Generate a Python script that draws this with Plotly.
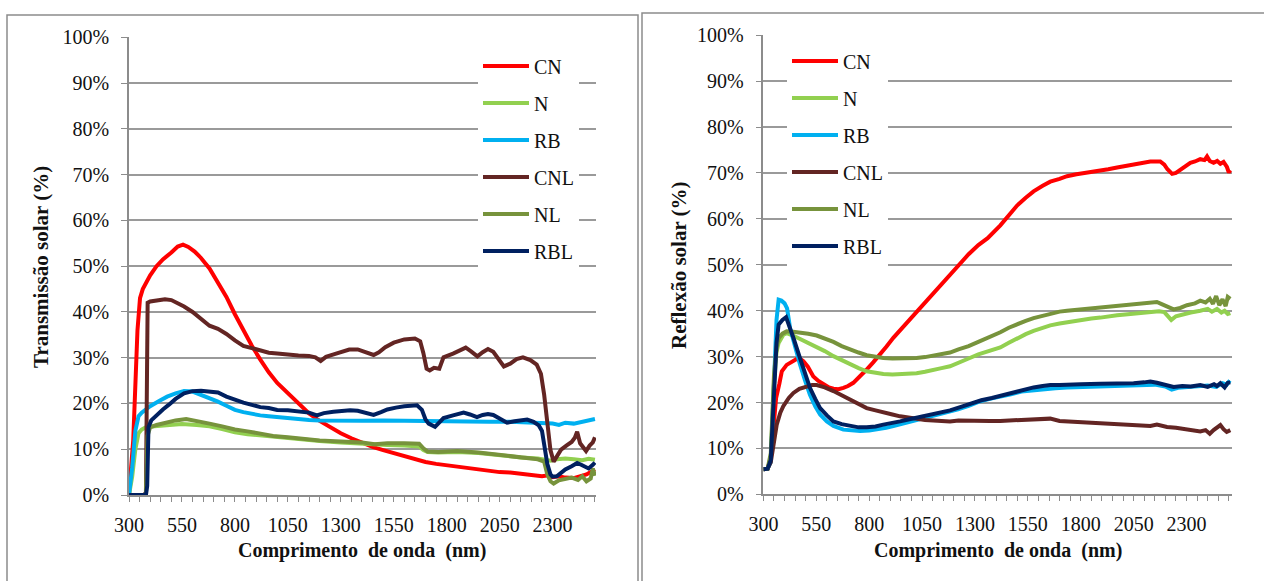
import plotly.graph_objects as go

W, H = 1264, 581

# ---------------- Left chart: Transmissão solar (%) ----------------
cn_t_nm = [300, 320, 340, 352, 365, 380, 400, 430, 460, 500, 530, 555, 580, 610, 640, 680, 720, 760, 800, 840, 880, 920, 960, 1000, 1050, 1100, 1150, 1200, 1250, 1300, 1350, 1400, 1450, 1500, 1550, 1600, 1650, 1700, 1750, 1800, 1850, 1900, 1950, 2000, 2050, 2100, 2150, 2200, 2250, 2280, 2300, 2330, 2360, 2400, 2430, 2460, 2480, 2500]
cn_t_val = [0, 12, 36, 43, 45, 46.5, 48, 50, 51.5, 53, 54.3, 54.7, 54.2, 53.2, 51.8, 49.5, 46.5, 43.3, 39.5, 36, 32.6, 29.6, 26.8, 24.5, 22.2, 19.8, 17.8, 16.2, 14.8, 13.5, 12.4, 11.4, 10.5, 9.8, 9.1, 8.5, 7.9, 7.2, 6.8, 6.5, 6.1, 5.8, 5.5, 5.3, 5.0, 4.9, 4.6, 4.4, 4.1, 4.3, 3.9, 4.1, 3.8, 3.7, 4.0, 4.5, 5.0, 5.6]

n_t_nm = [300, 315, 330, 345, 360, 380, 420, 480, 550, 620, 680, 740, 800, 860, 920, 980, 1050, 1120, 1200, 1300, 1400, 1460, 1520, 1600, 1670, 1690, 1710, 1760, 1850, 1950, 2050, 2150, 2230, 2270, 2290, 2320, 2360, 2400, 2440, 2470, 2500]
n_t_val = [0, 4, 10, 13.5, 14.3, 14.8, 15.0, 15.3, 15.5, 15.3, 15.0, 14.4, 13.7, 13.3, 13.0, 12.8, 12.5, 12.2, 11.8, 11.5, 11.2, 10.9, 10.9, 10.8, 10.6, 9.8, 9.4, 9.3, 9.4, 9.2, 8.6, 8.2, 8.0, 7.6, 7.5, 7.8, 8.0, 7.8, 7.6, 7.9, 7.7]

rb_t_nm = [300, 315, 330, 345, 360, 380, 400, 440, 480, 520, 560, 600, 640, 680, 720, 760, 800, 840, 880, 920, 960, 1000, 1050, 1100, 1150, 1200, 1300, 1400, 1500, 1600, 1700, 1800, 1900, 2000, 2100, 2200, 2250, 2300, 2330, 2360, 2400, 2430, 2460, 2480, 2500]
rb_t_val = [0, 6, 14, 17.2, 18, 18.8, 19.4, 20.5, 21.5, 22.2, 22.7, 22.6, 21.9, 21.2, 20.4, 19.5, 18.6, 18.1, 17.7, 17.4, 17.2, 17.0, 16.8, 16.6, 16.4, 16.3, 16.2, 16.2, 16.3, 16.2, 16.2, 16.2, 16.1, 16.0, 16.0, 15.9, 15.8, 15.6, 15.3, 15.8, 15.6, 15.9, 16.1, 16.4, 16.6]

cnl_t_nm = [300, 370, 380, 388, 400, 430, 470, 500, 530, 560, 600, 640, 680, 720, 760, 800, 840, 880, 920, 960, 1000, 1050, 1100, 1150, 1180, 1205, 1230, 1270, 1300, 1340, 1380, 1420, 1455, 1480, 1510, 1550, 1600, 1650, 1675, 1690, 1705, 1720, 1740, 1765, 1785, 1830, 1860, 1890, 1915, 1945, 1970, 1995, 2020, 2045, 2070, 2100, 2130, 2160, 2195, 2225, 2245, 2260, 2275, 2290, 2305, 2320, 2340, 2365, 2390, 2405, 2416, 2430, 2445, 2458, 2475, 2490, 2500]
cnl_t_val = [0, 0, 0.5, 42, 42.3, 42.5, 42.8, 42.6, 42, 41.2, 40, 38.6, 37, 36.3, 35.2, 33.8, 32.6, 32.1, 31.6, 31.1, 30.9, 30.6, 30.5, 30.4, 30.1, 29.3, 30.2, 30.8, 31.2, 31.8, 31.8, 31.2, 30.6, 31.2, 32.3, 33.3, 34, 34.2, 33.6, 31, 27.6, 27.2, 27.8, 27.6, 30.1, 30.9, 31.5, 32.2, 31.4, 30.3, 31.2, 31.9, 31.3, 29.8, 28.1, 28.7, 29.7, 30.1, 29.5, 28.5, 26.5, 22, 15, 9.8, 7.3, 8.5, 9.9, 10.8, 11.6, 12.5, 13.8, 11.3, 10.2, 9.6, 10.8, 11.5, 12.6]

nl_t_nm = [300, 380, 388, 400, 430, 470, 520, 570, 620, 680, 740, 800, 860, 920, 980, 1050, 1120, 1200, 1300, 1400, 1460, 1520, 1600, 1670, 1690, 1710, 1760, 1850, 1950, 2050, 2150, 2230, 2260, 2275, 2290, 2305, 2330, 2360, 2390, 2420, 2440, 2460, 2480, 2490, 2500]
nl_t_val = [0, 0, 13, 14.8, 15.3, 15.8, 16.3, 16.6, 16.2, 15.6, 15.0, 14.3, 13.9, 13.3, 12.9, 12.6, 12.3, 11.9, 11.7, 11.5, 11.1, 11.3, 11.3, 11.2, 10.2, 9.5, 9.4, 9.6, 9.3, 8.7, 8.1, 7.8, 7.3, 4.5, 3.0, 2.5, 3.2, 3.4, 3.8, 3.3, 4.1, 3.0, 3.6, 5.8, 4.2]

rbl_t_nm = [300, 380, 386, 392, 405, 430, 460, 490, 520, 560, 600, 640, 680, 720, 760, 800, 840, 880, 920, 960, 1000, 1050, 1100, 1150, 1187, 1220, 1265, 1300, 1344, 1380, 1420, 1455, 1490, 1520, 1560, 1600, 1660, 1683, 1700, 1715, 1745, 1765, 1785, 1830, 1880, 1910, 1943, 1970, 1995, 2020, 2040, 2065, 2085, 2120, 2150, 2180, 2210, 2235, 2250, 2262, 2275, 2290, 2300, 2320, 2340, 2360, 2390, 2416, 2435, 2450, 2470, 2490, 2500]
rbl_t_val = [0, 0, 2, 14.8, 16.3, 17.5, 18.7, 19.8, 21, 22.2, 22.7, 22.8, 22.5, 22.4, 21.5, 20.8, 20.2, 19.7, 19.2, 19.0, 18.6, 18.5, 18.3, 18.0, 17.4, 17.9, 18.2, 18.4, 18.5, 18.4, 17.9, 17.5, 18.1, 18.7, 19.1, 19.4, 19.6, 18.6, 16.5, 15.6, 14.9, 16.0, 16.8, 17.4, 18.0, 17.6, 17.0, 17.5, 17.7, 17.5, 17.0, 16.2, 15.8, 16.1, 16.4, 16.5, 16.0, 15.2, 14.0, 10.5, 6.8, 4.5, 4.0, 4.1, 5.0, 5.6, 6.3, 7.0, 6.6, 6.2, 5.8, 6.6, 7.1]

# ---------------- Right chart: Reflexão solar (%) ----------------
cn_r_nm = [300, 320, 335, 350, 360, 375, 387, 410, 435, 457, 475, 489, 510, 536, 560, 584, 610, 631, 655, 678, 700, 725, 755, 788, 820, 851, 882, 914, 945, 977, 1008, 1040, 1072, 1103, 1142, 1182, 1222, 1270, 1316, 1360, 1420, 1460, 1499, 1540, 1577, 1620, 1656, 1700, 1735, 1780, 1814, 1850, 1893, 1930, 1972, 2010, 2050, 2090, 2129, 2176, 2195, 2210, 2232, 2250, 2271, 2295, 2318, 2340, 2365, 2385, 2397, 2410, 2428, 2445, 2460, 2475, 2491, 2500, 2507]
cn_r_val = [5.5, 5.6, 8, 17, 21, 24, 26.8, 28.2, 29.0, 29.5, 29.5, 29.0, 27.8, 25.7, 24.7, 23.9, 23.3, 23.0, 22.9, 23.2, 23.6, 24.3, 25.6, 27.2, 28.8, 30.4, 32.2, 34.1, 35.7, 37.3, 38.9, 40.4, 42.0, 43.6, 45.7, 47.8, 49.9, 52.3, 54.3, 55.8, 58.6, 60.8, 62.9, 64.6, 66.0, 67.2, 68.1, 68.7, 69.3, 69.7, 69.9, 70.2, 70.5, 70.8, 71.2, 71.5, 71.9, 72.2, 72.5, 72.5, 71.8, 70.8, 69.8, 70.0, 70.6, 71.5, 72.2, 72.5, 73.0, 72.8, 73.6, 72.6, 72.2, 72.6, 72.0, 72.4, 71.3, 70.1, 70.6]

n_r_nm = [300, 320, 335, 350, 362, 372, 395, 410, 440, 473, 512, 552, 590, 631, 670, 710, 750, 788, 830, 867, 910, 946, 985, 1024, 1064, 1103, 1142, 1182, 1222, 1270, 1316, 1370, 1420, 1460, 1499, 1540, 1577, 1620, 1656, 1700, 1735, 1780, 1814, 1850, 1893, 1930, 1972, 2010, 2050, 2090, 2129, 2170, 2195, 2215, 2228, 2250, 2271, 2320, 2365, 2400, 2420, 2444, 2465, 2480, 2495, 2507]
n_r_val = [5.5, 5.6, 8, 24, 31, 33, 34.8, 35.1, 34.6, 33.9, 33.0, 32.2, 31.2, 30.1, 29.2, 28.3, 27.5, 26.8, 26.4, 26.2, 26.1, 26.2, 26.2, 26.4, 26.7, 27.2, 27.5, 27.9, 28.6, 29.6, 30.5, 31.2, 32.0, 33.0, 34.0, 34.9, 35.6, 36.3, 36.8, 37.2, 37.5, 37.8, 38.0, 38.3, 38.5, 38.8, 39.0, 39.2, 39.4, 39.6, 39.8, 39.9, 39.7, 38.6, 38.0, 38.8, 39.1, 39.6, 40.0, 40.4, 39.8, 40.4, 39.6, 40.0, 39.3, 39.5]

rb_r_nm = [300, 320, 335, 350, 362, 372, 385, 400, 412, 426, 450, 473, 497, 520, 545, 568, 600, 631, 678, 720, 757, 800, 835, 880, 914, 950, 993, 1030, 1072, 1120, 1166, 1220, 1270, 1320, 1370, 1420, 1470, 1520, 1577, 1620, 1680, 1735, 1800, 1893, 2000, 2050, 2100, 2150, 2200, 2230, 2260, 2300, 2350, 2400, 2440, 2470, 2490, 2505]
rb_r_val = [5.5, 5.6, 7, 25, 38, 42.4, 42.2, 41.6, 40.5, 36.2, 32, 28.3, 24.8, 21.7, 19.2, 17.4, 15.9, 14.9, 14.1, 13.9, 13.8, 13.9, 14.1, 14.5, 14.9, 15.3, 15.9, 16.3, 16.8, 17.2, 17.7, 18.5, 19.3, 20.2, 20.8, 21.2, 21.8, 22.4, 22.7, 22.9, 23.1, 23.3, 23.4, 23.6, 23.7, 23.8, 23.9, 23.9, 23.5, 22.8, 23.2, 23.3, 23.5, 23.7, 23.4, 24.2, 23.9, 24.8]

cnl_r_nm = [300, 320, 335, 347, 363, 380, 394, 420, 442, 470, 505, 530, 552, 590, 631, 670, 710, 750, 788, 830, 867, 910, 946, 985, 1024, 1064, 1103, 1142, 1182, 1222, 1270, 1316, 1370, 1420, 1500, 1577, 1620, 1656, 1700, 1735, 1814, 1893, 1972, 2050, 2129, 2160, 2208, 2250, 2287, 2320, 2365, 2390, 2410, 2428, 2445, 2460, 2475, 2490, 2507]
cnl_r_val = [5.5, 5.6, 7, 10.1, 15.2, 17.8, 19.2, 21, 22.1, 23, 23.6, 23.8, 23.8, 23.3, 22.5, 21.6, 20.7, 19.7, 18.8, 18.3, 17.8, 17.4, 17.0, 16.7, 16.4, 16.2, 16.1, 16.0, 15.9, 16.1, 16.0, 15.9, 16.0, 16.0, 16.1, 16.2, 16.3, 16.5, 16.0, 15.9, 15.8, 15.5, 15.3, 15.1, 14.9, 15.2, 14.7, 14.5, 14.3, 14.1, 13.7, 14.0, 13.2, 14.0, 14.5, 15.1, 14.2, 13.6, 14.0]

nl_r_nm = [300, 320, 335, 350, 362, 372, 390, 410, 440, 473, 512, 552, 590, 631, 670, 710, 750, 788, 830, 867, 910, 946, 985, 1024, 1064, 1103, 1142, 1182, 1222, 1270, 1316, 1370, 1420, 1460, 1499, 1540, 1577, 1620, 1656, 1700, 1735, 1780, 1814, 1850, 1893, 1930, 1972, 2010, 2050, 2090, 2129, 2160, 2180, 2215, 2239, 2270, 2302, 2340, 2365, 2390, 2410, 2425, 2440, 2455, 2470, 2485, 2495, 2507]
nl_r_val = [5.5, 5.6, 9, 26, 32, 34, 35, 35.5, 35.4, 35.3, 35.0, 34.6, 34.0, 33.2, 32.3, 31.5, 30.9, 30.3, 29.9, 29.7, 29.6, 29.6, 29.6, 29.7, 29.9, 30.2, 30.6, 30.9, 31.6, 32.3, 33.2, 34.2, 35.3, 36.3, 37.1, 37.8, 38.4, 38.9, 39.4, 39.8, 40.0, 40.2, 40.3, 40.5, 40.7, 40.9, 41.2, 41.3, 41.5, 41.6, 41.7, 41.9, 41.5, 40.9, 40.3, 40.6, 41.2, 41.6, 42.2, 41.8, 42.6, 41.5, 43.2, 41.2, 42.5, 41.0, 43.0, 42.6]

rbl_r_nm = [300, 320, 335, 350, 362, 372, 390, 407, 420, 442, 473, 497, 520, 545, 568, 600, 631, 670, 710, 750, 788, 830, 867, 910, 946, 985, 1024, 1064, 1103, 1142, 1182, 1230, 1280, 1330, 1380, 1420, 1460, 1500, 1540, 1577, 1620, 1656, 1700, 1735, 1800, 1893, 2000, 2050, 2100, 2129, 2160, 2208, 2239, 2280, 2320, 2365, 2400, 2430, 2444, 2460, 2480, 2495, 2507]
rbl_r_val = [5.5, 5.6, 7.5, 22, 33, 37, 38, 38.6, 37, 34.1, 29.7, 26.2, 23.2, 20.8, 18.8, 17.2, 15.9, 15.3, 14.9, 14.6, 14.6, 14.8, 15.2, 15.5, 15.9, 16.3, 16.7, 17.0, 17.4, 17.8, 18.3, 19.0, 19.8, 20.5, 21.0, 21.5, 22.0, 22.4, 22.9, 23.3, 23.6, 23.8, 23.8, 23.9, 24.0, 24.1, 24.1, 24.2, 24.4, 24.6, 24.3, 23.8, 23.4, 23.6, 23.5, 23.8, 23.4, 24.0, 23.6, 24.2, 23.3, 24.3, 24.4]

series_names = ["CN", "N", "RB", "CNL", "NL", "RBL"]
series_colors = ["#FF0000", "#92D050", "#00B0F0", "#632523", "#77933C", "#002060"]
left_data = [(cn_t_nm, cn_t_val), (n_t_nm, n_t_val), (rb_t_nm, rb_t_val),
             (cnl_t_nm, cnl_t_val), (nl_t_nm, nl_t_val), (rbl_t_nm, rbl_t_val)]
right_data = [(cn_r_nm, cn_r_val), (n_r_nm, n_r_val), (rb_r_nm, rb_r_val),
              (cnl_r_nm, cnl_r_val), (nl_r_nm, nl_r_val), (rbl_r_nm, rbl_r_val)]

x_ticks = [300, 550, 800, 1050, 1300, 1550, 1800, 2050, 2300]
y_ticks = [0, 10, 20, 30, 40, 50, 60, 70, 80, 90, 100]
y_labels = [f"{v}%" for v in y_ticks]

FONT = "Liberation Serif"
GRID = "#9a9a9a"
AX = "#8c8c8c"

fig = go.Figure()
for i, (name, col) in enumerate(zip(series_names, series_colors)):
    xs, ys = left_data[i]
    fig.add_trace(go.Scatter(x=xs, y=ys, mode="lines", name=name,
                             line=dict(color=col, width=4),
                             xaxis="x", yaxis="y", legend="legend",
                             legendgroup="L" + name))
for i, (name, col) in enumerate(zip(series_names, series_colors)):
    xs, ys = right_data[i]
    fig.add_trace(go.Scatter(x=xs, y=ys, mode="lines", name=name,
                             line=dict(color=col, width=4),
                             xaxis="x2", yaxis="y2", legend="legend2",
                             legendgroup="R" + name))


def px(x):
    return x / W


def py(y):
    return 1 - y / H


def xaxis_cfg(d0, d1, anchor, rmax):
    return dict(domain=[px(d0), px(d1)], anchor=anchor, range=[300, rmax],
                automargin=False,
                tickvals=x_ticks, ticktext=[str(v) for v in x_ticks],
                ticks="outside", ticklen=5, tickcolor=AX, tickwidth=1.2,
                showline=True, linecolor=AX, linewidth=1.5,
                showgrid=False, zeroline=False,
                minor=dict(dtick=50, tick0=300, ticks="outside", ticklen=5,
                           tickcolor=AX, tickwidth=1.2, showgrid=False),
                tickfont=dict(family=FONT, size=20, color="#111111"),
                ticklabelstandoff=6, fixedrange=True)


def yaxis_cfg(d0, d1, anchor):
    return dict(domain=[py(d0), py(d1)], anchor=anchor, range=[0, 100],
                automargin=False,
                tickvals=y_ticks, ticktext=y_labels,
                ticks="outside", ticklen=6, tickcolor=AX, tickwidth=1.2,
                showline=True, linecolor=AX, linewidth=1.5,
                showgrid=True, gridcolor=GRID, gridwidth=1.5, zeroline=False,
                tickfont=dict(family=FONT, size=20, color="#111111"),
                ticklabelstandoff=8, fixedrange=True)


legend_common = dict(bgcolor="white", borderwidth=0,
                     font=dict(family=FONT, size=20, color="#111111"),
                     itemwidth=46, tracegroupgap=8, traceorder="grouped",
                     xanchor="left", yanchor="top", itemclick=False,
                     itemdoubleclick=False)

title_font = dict(family=FONT, size=20, color="#111111", weight="bold")

fig.update_layout(
    width=W, height=H, autosize=False,
    margin=dict(l=0, r=0, t=0, b=0, autoexpand=False),
    paper_bgcolor="white", plot_bgcolor="white",
    xaxis=xaxis_cfg(129, 596, "y", 2505),
    yaxis=yaxis_cfg(495, 37.4, "x"),
    xaxis2=xaxis_cfg(763.4, 1232, "y2", 2515),
    yaxis2=yaxis_cfg(494.4, 35.2, "x2"),
    legend=dict(x=px(478), y=py(46.5), **legend_common),
    legend2=dict(x=px(787), y=py(41.5), **legend_common),
    showlegend=True,
    annotations=[
        dict(text="Comprimento&nbsp;&nbsp;de&nbsp;onda&nbsp;&nbsp;(nm)", x=px(362), y=py(550),
             xref="paper", yref="paper", showarrow=False, font=title_font,
             xanchor="center", yanchor="middle"),
        dict(text="Comprimento&nbsp;&nbsp;de&nbsp;onda&nbsp;&nbsp;(nm)", x=px(998), y=py(550),
             xref="paper", yref="paper", showarrow=False, font=title_font,
             xanchor="center", yanchor="middle"),
        dict(text="Transmissão solar (%)", x=px(41), y=py(267), textangle=-90,
             xref="paper", yref="paper", showarrow=False,
             font=dict(family=FONT, size=21, color="#111111", weight="bold"),
             xanchor="center", yanchor="middle"),
        dict(text="Reflexão solar (%)", x=px(679), y=py(265), textangle=-90,
             xref="paper", yref="paper", showarrow=False,
             font=dict(family=FONT, size=21, color="#111111", weight="bold"),
             xanchor="center", yanchor="middle"),
    ],
    shapes=[
        dict(type="rect", xref="paper", yref="paper", x0=px(7), x1=px(638),
             y0=-0.02, y1=py(15), line=dict(color="#8c8c8c", width=1.5),
             fillcolor="rgba(0,0,0,0)", layer="below"),
        dict(type="rect", xref="paper", yref="paper", x0=px(642), x1=1.02,
             y0=-0.02, y1=py(13), line=dict(color="#8c8c8c", width=1.5),
             fillcolor="rgba(0,0,0,0)", layer="below"),
    ],
)

fig.write_html("out.html", config={"displayModeBar": False},
               post_script="document.body.style.margin='0px';")
